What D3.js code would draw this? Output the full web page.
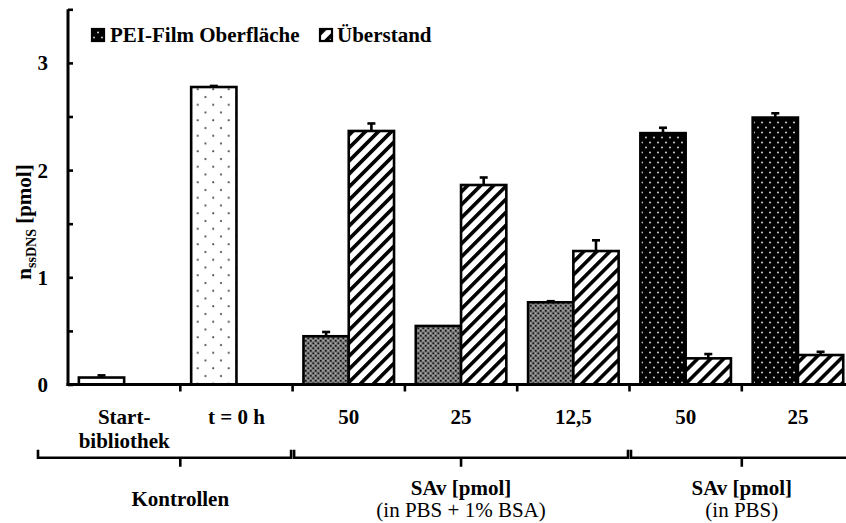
<!DOCTYPE html>
<html>
<head>
<meta charset="utf-8">
<script src="https://cdn.jsdelivr.net/npm/d3@7"></script>
<style>
  html, body { margin: 0; padding: 0; background: #fff; }
  svg { display: block; font-family: "Liberation Serif", "Times New Roman", serif; }
</style>
</head>
<body>
<svg id="chart" width="846" height="523"></svg>
<script>
// Category tick labels (multi-line where needed)
const categoryLabels = [["Start-", "bibliothek"], ["t = 0 h"], ["50"], ["25"], ["12,5"], ["50"], ["25"]];
// Amount of ssDNA on the PEI film surface, pmol
const surfaceValues = [0.065, 2.775, 0.45, 0.546, 0.767, 2.345, 2.49];
const surfaceErrors = [0.02, 0.01, 0.04, 0.0, 0.01, 0.05, 0.04];
// Amount of ssDNA remaining in the supernatant, pmol
const supernatantValues = [null, null, 2.365, 1.861, 1.245, 0.244, 0.275];
const supernatantErrors = [0, 0, 0.07, 0.07, 0.10, 0.04, 0.03];
// Category groups
const groupTitles = ["Kontrollen", "SAv [pmol]", "SAv [pmol]"];
const groupSubtitles = ["", "(in PBS + 1% BSA)", "(in PBS)"];
const groupSizes = [2, 3, 2];
const seriesNames = ["PEI-Film Oberfläche", "Überstand"];
const yTicks = [0, 1, 2, 3];

const svg = d3.select("#chart");
const FONT = 21;

// ---------- fill patterns ----------
const defs = svg.append("defs");

// diagonal stripes "/"
const stripes = defs.append("pattern").attr("id", "stripes")
  .attr("patternUnits", "userSpaceOnUse").attr("width", 9.2).attr("height", 9.2)
  .attr("patternTransform", "rotate(45)");
stripes.append("rect").attr("width", 9.2).attr("height", 9.2).attr("fill", "#fff");
stripes.append("rect").attr("x", 0).attr("width", 3.6).attr("height", 9.2).attr("fill", "#000");

// sparse grey dots on white
const dotsLight = defs.append("pattern").attr("id", "dotsLight")
  .attr("patternUnits", "userSpaceOnUse").attr("width", 15.5).attr("height", 15.5)
  .attr("x", 0).attr("y", 0);
dotsLight.append("rect").attr("width", 15.5).attr("height", 15.5).attr("fill", "#fff");
dotsLight.append("circle").attr("cx", 4).attr("cy", 4).attr("r", 1).attr("fill", "#444");
dotsLight.append("circle").attr("cx", 11.75).attr("cy", 11.75).attr("r", 1).attr("fill", "#444");

// white dots on black
const dotsDark = defs.append("pattern").attr("id", "dotsDark")
  .attr("patternUnits", "userSpaceOnUse").attr("width", 8).attr("height", 10);
dotsDark.append("rect").attr("width", 8).attr("height", 10).attr("fill", "#000");
dotsDark.append("circle").attr("cx", 2).attr("cy", 2.5).attr("r", 1.05).attr("fill", "#c8c8c8");
dotsDark.append("circle").attr("cx", 6).attr("cy", 7.5).attr("r", 1.05).attr("fill", "#c8c8c8");

// grey lattice
const lattice = defs.append("pattern").attr("id", "lattice")
  .attr("patternUnits", "userSpaceOnUse").attr("width", 5).attr("height", 5);
lattice.append("rect").attr("width", 5).attr("height", 5).attr("fill", "#7a7a7a");
lattice.append("rect").attr("x", 0).attr("y", 0).attr("width", 1.6).attr("height", 1.6).attr("fill", "#111");
lattice.append("rect").attr("x", 2.5).attr("y", 2.5).attr("width", 1.6).attr("height", 1.6).attr("fill", "#111");
lattice.append("rect").attr("x", 2.5).attr("y", 0.2).attr("width", 1).attr("height", 1).attr("fill", "#d0d0d0");
lattice.append("rect").attr("x", 0.2).attr("y", 2.7).attr("width", 1).attr("height", 1).attr("fill", "#d0d0d0");

// ---------- scales ----------
const left = 68, step = 112.3;
const x0 = d3.scaleBand().domain(d3.range(categoryLabels.length))
  .range([left, left + step * categoryLabels.length]).padding(0);
const x1 = d3.scaleBand().domain([0, 1]).range([0, x0.bandwidth()])
  .paddingInner(0).paddingOuter(0.24);
const y = d3.scaleLinear().domain([0, 3.5]).range([384.5, 9.3]);

// group index of every category
const groupOf = [];
groupSizes.forEach((n, g) => { for (let k = 0; k < n; k++) groupOf.push(g); });

function surfaceFill(i) {
  if (i === 0) return "#fff";
  if (i === 1) return "url(#dotsLight)";
  return groupOf[i] === 1 ? "url(#lattice)" : "url(#dotsDark)";
}

// ---------- bars ----------
const bars = [];
surfaceValues.forEach((v, i) => bars.push({ i, s: 0, v, e: surfaceErrors[i], fill: surfaceFill(i) }));
supernatantValues.forEach((v, i) => { if (v != null) bars.push({ i, s: 1, v, e: supernatantErrors[i], fill: "url(#stripes)" }); });

const gBars = svg.append("g");
gBars.selectAll("rect").data(bars).join("rect")
  .attr("x", d => x0(d.i) + x1(d.s))
  .attr("y", d => y(d.v))
  .attr("width", x1.bandwidth())
  .attr("height", d => y(0) - y(d.v))
  .attr("fill", d => d.fill)
  .attr("stroke", "#000").attr("stroke-width", 2.6);

// error bars (plus direction)
const gErr = svg.append("g").attr("stroke", "#000").attr("stroke-width", 2.6);
bars.filter(d => d.e > 0).forEach(d => {
  const cx = x0(d.i) + x1(d.s) + x1.bandwidth() / 2;
  gErr.append("line").attr("x1", cx).attr("x2", cx).attr("y1", y(d.v)).attr("y2", y(d.v + d.e));
  gErr.append("line").attr("x1", cx - 4).attr("x2", cx + 4).attr("y1", y(d.v + d.e)).attr("y2", y(d.v + d.e));
});

// ---------- y axis ----------
const yAxis = d3.axisRight(y).tickValues(d3.range(0, 3.51, 0.5)).tickSize(5).tickFormat("");
const gy = svg.append("g").attr("transform", `translate(${left},0)`).call(yAxis);
gy.select(".domain").attr("d", `M0,${y(3.5)}V${y(0) + 1.5}`).attr("stroke", "#000").attr("stroke-width", 3);
gy.selectAll(".tick line").attr("stroke", "#000").attr("stroke-width", 2.6);

svg.append("g").selectAll("text").data(yTicks).join("text")
  .attr("x", 48).attr("y", d => y(d) + 7.5)
  .attr("text-anchor", "end").attr("font-weight", "bold").attr("font-size", FONT)
  .text(d => d);

// y title: n_ssDNS [pmol]
const yTitle = svg.append("text")
  .attr("transform", "translate(31,222) rotate(-90)")
  .attr("text-anchor", "middle").attr("font-weight", "bold").attr("font-size", FONT);
yTitle.append("tspan").text("n");
yTitle.append("tspan").attr("font-size", 14).attr("dy", 5).text("ssDNS");
yTitle.append("tspan").attr("dy", -5).text(" [pmol]");

// ---------- x axis ----------
const axisY = y(0);
const xRight = left + step * categoryLabels.length;
svg.append("line").attr("x1", left - 1.5).attr("x2", xRight).attr("y1", axisY).attr("y2", axisY)
  .attr("stroke", "#000").attr("stroke-width", 3);
svg.append("g").selectAll("line").data(d3.range(1, categoryLabels.length + 1)).join("line")
  .attr("x1", i => left + step * i).attr("x2", i => left + step * i)
  .attr("y1", axisY).attr("y2", axisY + 7)
  .attr("stroke", "#000").attr("stroke-width", 2.6);

// category labels
const gCat = svg.append("g").attr("font-weight", "bold").attr("font-size", FONT).attr("text-anchor", "middle");
categoryLabels.forEach((lines, i) => {
  const t = gCat.append("text").attr("x", x0(i) + x0.bandwidth() / 2).attr("y", 424);
  lines.forEach((ln, k) => t.append("tspan").attr("x", x0(i) + x0.bandwidth() / 2).attr("dy", k === 0 ? 0 : 24).text(ln));
});

// group brackets
const bracketY = 457.7;
let start = 0;
const gGroups = svg.append("g");
groupSizes.forEach((n, g) => {
  const gx0 = x0(start), gx1 = x0(start + n - 1) + x0.bandwidth();
  const bx0 = g === 0 ? 38 : gx0 + 1.5;
  const bx1 = gx1 - 1.5;
  const mid = (gx0 + gx1) / 2;
  const path = `M${bx0},${bracketY - 8}V${bracketY}H${bx1}V${bracketY - 8}M${mid},${bracketY}V${bracketY + 9}`;
  gGroups.append("path").attr("d", path).attr("fill", "none")
    .attr("stroke", "#000").attr("stroke-width", 2.6);
  if (groupSubtitles[g]) {
    gGroups.append("text").attr("x", mid).attr("y", 495).attr("text-anchor", "middle")
      .attr("font-weight", "bold").attr("font-size", FONT).text(groupTitles[g]);
    gGroups.append("text").attr("x", mid).attr("y", 517).attr("text-anchor", "middle")
      .attr("font-size", FONT).text(groupSubtitles[g]);
  } else {
    gGroups.append("text").attr("x", mid).attr("y", 506).attr("text-anchor", "middle")
      .attr("font-weight", "bold").attr("font-size", FONT).text(groupTitles[g]);
  }
  start += n;
});

// ---------- legend ----------
const legendItems = [
  { name: seriesNames[0], fill: "url(#dotsDark)", sx: 92, tx: 110 },
  { name: seriesNames[1], fill: "url(#stripes)", sx: 320, tx: 337 }
];
const gLeg = svg.append("g");
legendItems.forEach(it => {
  gLeg.append("rect").attr("x", it.sx).attr("y", 29).attr("width", 12).attr("height", 12)
    .attr("fill", it.fill).attr("stroke", "#000").attr("stroke-width", 2.2);
  gLeg.append("text").attr("x", it.tx).attr("y", 42).attr("font-weight", "bold")
    .attr("font-size", FONT).text(it.name);
});
</script>
</body>
</html>
